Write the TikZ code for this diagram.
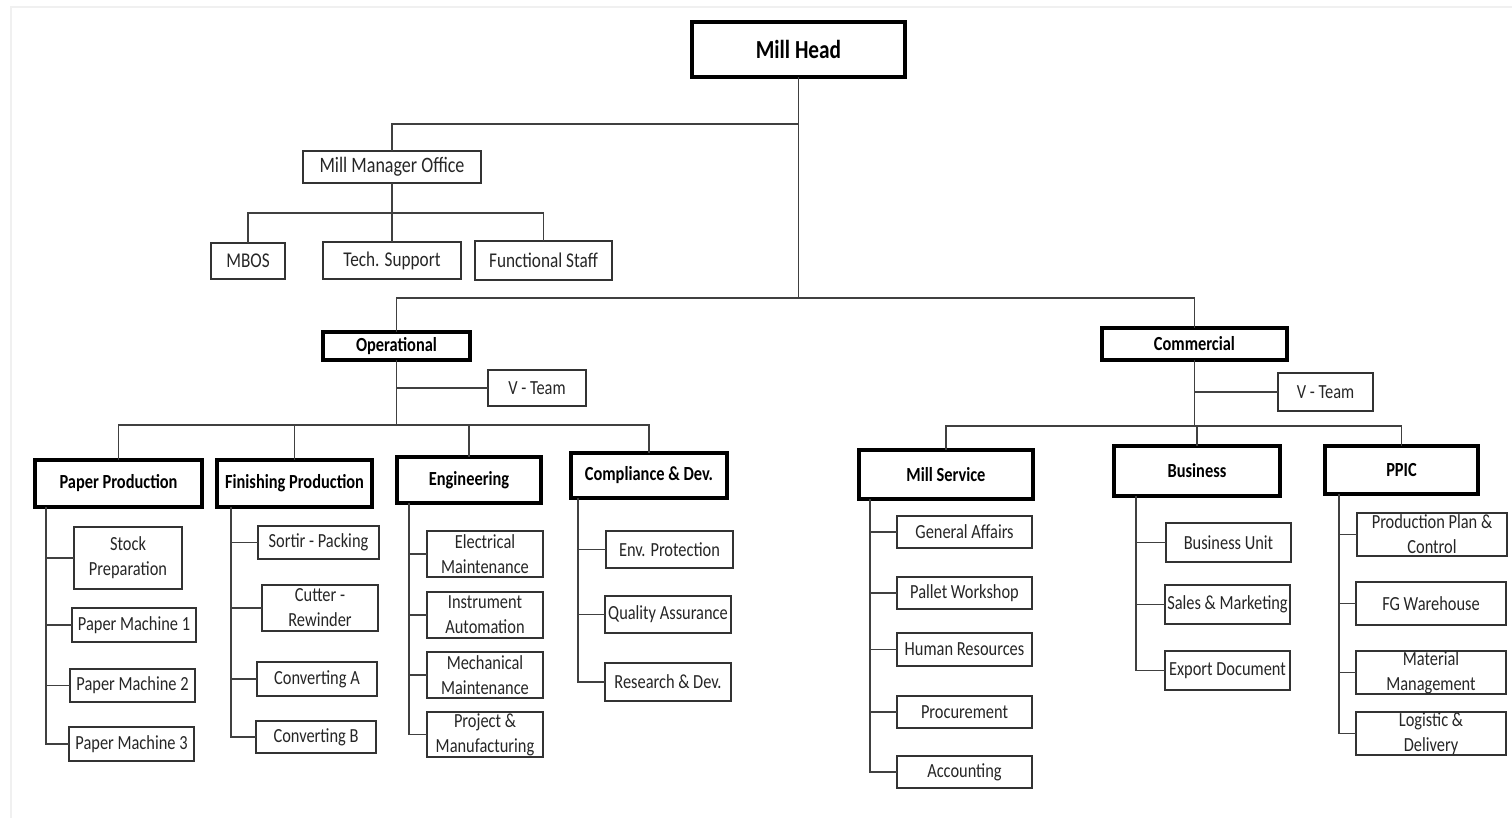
\documentclass[tikz,border=0pt]{standalone}
\usepackage{fontspec}
\setmainfont{Carlito}[FakeStretch=0.82]

\tikzset{
  box/.style={draw=black!80, line width=0.75pt, fill=white, inner sep=0pt, outer sep=0pt,
    align=center, text=black!85, font=\fontsize{10}{12.5}\selectfont},
  headbox/.style={box, draw=black, line width=2pt, text=black,
    font=\fontsize{10}{12}\selectfont\bfseries},
  sz/.style 2 args={minimum width=#1*0.5pt, minimum height=#2*0.5pt},
  link/.style={draw=black!75, line width=0.75pt},
}

\begin{document}
\begin{tikzpicture}[x=0.5pt, y=-0.5pt]
      \useasboundingbox (0,0) rectangle (1512,818);
      \draw[black!6, line width=0.6pt] (11,818) -- (11,7) -- (1512,7);

      % top
      \node[headbox, sz={213}{55}, font=\fontsize{13}{15}\selectfont\bfseries] (head) at (798.5,49.5) {Mill Head};
      \node[box, sz={178}{32}, font=\fontsize{11}{13}\selectfont] (mmo) at (392,167) {Mill Manager Office};
      \node[box, sz={74}{36}, font=\fontsize{10.5}{13}\selectfont] (mbos) at (248,261) {MBOS};
      \node[box, sz={138}{37}, font=\fontsize{10.5}{13}\selectfont] (ts) at (392,260.5) {Tech. Support};
      \node[box, sz={137}{39}, font=\fontsize{10.5}{13}\selectfont] (fs) at (543.5,260.5) {Functional Staff};

      \coordinate (j1) at (798.5,124);
      \coordinate (jtop) at (798.5,298);
      \coordinate (j2) at (392,213);
      \draw[link] (head.south) -- (jtop);
      \draw[link] (mmo.north) |- (j1);
      \draw[link] (mmo.south) -- (ts.north);
      \draw[link] (mbos.north) |- (j2) -| (fs.north);

      % operational
      \node[headbox, sz={147}{28}] (ops) at (396.5,346) {Operational};
      \node[box, sz={98}{36}] (vt1) at (537,388) {V - Team};
      \node[headbox, sz={167}{47}] (pp) at (118.5,483.5) {Paper Production};
      \node[headbox, sz={155}{47}] (fp) at (294.5,483.5) {Finishing Production};
      \node[headbox, sz={144}{46}] (eng) at (469,480) {Engineering};
      \node[headbox, sz={156}{45}] (cd) at (649,475.5) {Compliance \& Dev.};

      \coordinate (j3) at (396.5,425);
      \draw[link] (ops.north) |- (jtop);
      \draw[link] (ops.south) -- (j3);
      \draw[link] (vt1.west) -- (vt1.west -| ops.south);
      \draw[link] (pp.north) |- (j3) -| (cd.north);
      \draw[link] (fp.north) -- (fp.north |- j3);
      \draw[link] (eng.north) -- (eng.north |- j3);

      \node[box, sz={108}{62}] (sp) at (128,558) {Stock\\Preparation};
      \node[box, sz={124}{34}] (pm1) at (134,625) {Paper Machine 1};
      \node[box, sz={125}{33}] (pm2) at (132.5,685.5) {Paper Machine 2};
      \node[box, sz={125}{34}] (pm3) at (131.5,744) {Paper Machine 3};

      \node[box, sz={121}{33}] (sortir) at (318.5,542.5) {Sortir - Packing};
      \node[box, sz={116}{46}] (cut) at (320,608) {Cutter -\\Rewinder};
      \node[box, sz={120}{34}] (cva) at (317,679) {Converting A};
      \node[box, sz={120}{32}] (cvb) at (316,737) {Converting B};

      \node[box, sz={116}{46}] (elm) at (485,554) {Electrical\\Maintenance};
      \node[box, sz={116}{46}] (ins) at (485,615) {Instrument\\Automation};
      \node[box, sz={116}{46}] (mech) at (485,675) {Mechanical\\Maintenance};
      \node[box, sz={116}{45}] (proj) at (485,734.5) {Project \&\\Manufacturing};

      \node[box, sz={127}{37}] (env) at (669.5,549.5) {Env. Protection};
      \node[box, sz={126}{37}] (qa) at (668,614.5) {Quality Assurance};
      \node[box, sz={126}{38}] (rd) at (668,682) {Research \& Dev.};

      \coordinate (ppt) at (46,507);
      \coordinate (fpt) at (231,507);
      \coordinate (engt) at (409,503);
      \coordinate (cdt) at (578,498);
      \draw[link] (ppt) |- (pm3.west);
      \foreach \c in {sp,pm1,pm2} \draw[link] (\c.west) -- (\c.west -| ppt);
      \draw[link] (fpt) |- (cvb.west);
      \foreach \c in {sortir,cut,cva} \draw[link] (\c.west) -- (\c.west -| fpt);
      \draw[link] (engt) |- (proj.west);
      \foreach \c in {elm,ins,mech} \draw[link] (\c.west) -- (\c.west -| engt);
      \draw[link] (cdt) |- (rd.west);
      \foreach \c in {env,qa} \draw[link] (\c.west) -- (\c.west -| cdt);

      % commercial
      \node[headbox, sz={185}{32}] (com) at (1194.5,344) {Commercial};
      \node[box, sz={95}{38}] (vt2) at (1325.5,392) {V - Team};
      \node[headbox, sz={174}{49}] (ms) at (946,474.5) {Mill Service};
      \node[headbox, sz={166}{50}] (bus) at (1197,471) {Business};
      \node[headbox, sz={153}{48}] (ppic) at (1401.5,470) {PPIC};

      \coordinate (j4) at (1196,426);
      \draw[link] (jtop) -| (com.north);
      \draw[link] (com.south) -- (com.south |- j4);
      \draw[link] (vt2.west) -- (vt2.west -| com.south);
      \draw[link] (ms.north) |- (j4) -| (ppic.north);
      \draw[link] (bus.north) -- (bus.north |- j4);

      \node[box, sz={135}{32}] (ga) at (964.5,532) {General Affairs};
      \node[box, sz={135}{32}] (pw) at (964.5,593) {Pallet Workshop};
      \node[box, sz={135}{33}] (hr) at (964.5,649.5) {Human Resources};
      \node[box, sz={135}{32}] (proc) at (964.5,712) {Procurement};
      \node[box, sz={135}{32}] (acc) at (964.5,772) {Accounting};

      \node[box, sz={125}{39}] (bu) at (1228.5,542.5) {Business Unit};
      \node[box, sz={125}{39}] (sm) at (1227.5,604.5) {Sales \& Marketing};
      \node[box, sz={125}{39}] (ed) at (1227.5,670.5) {Export Document};

      \node[box, sz={150}{43}] (ppc) at (1432,534.5) {Production Plan \&\\Control};
      \node[box, sz={150}{43}] (fg) at (1431,603.5) {FG Warehouse};
      \node[box, sz={150}{43}] (mm) at (1431,672.5) {Material\\Management};
      \node[box, sz={150}{43}] (ld) at (1431,733.5) {Logistic \&\\Delivery};

      \coordinate (mst) at (870,499);
      \coordinate (bust) at (1136,496);
      \coordinate (ppict) at (1339,494);
      \draw[link] (mst) |- (acc.west);
      \foreach \c in {ga,pw,hr,proc} \draw[link] (\c.west) -- (\c.west -| mst);
      \draw[link] (bust) |- (ed.west);
      \foreach \c in {bu,sm} \draw[link] (\c.west) -- (\c.west -| bust);
      \draw[link] (ppict) |- (ld.west);
      \foreach \c in {ppc,fg,mm} \draw[link] (\c.west) -- (\c.west -| ppict);
    \end{tikzpicture}
\end{document}
